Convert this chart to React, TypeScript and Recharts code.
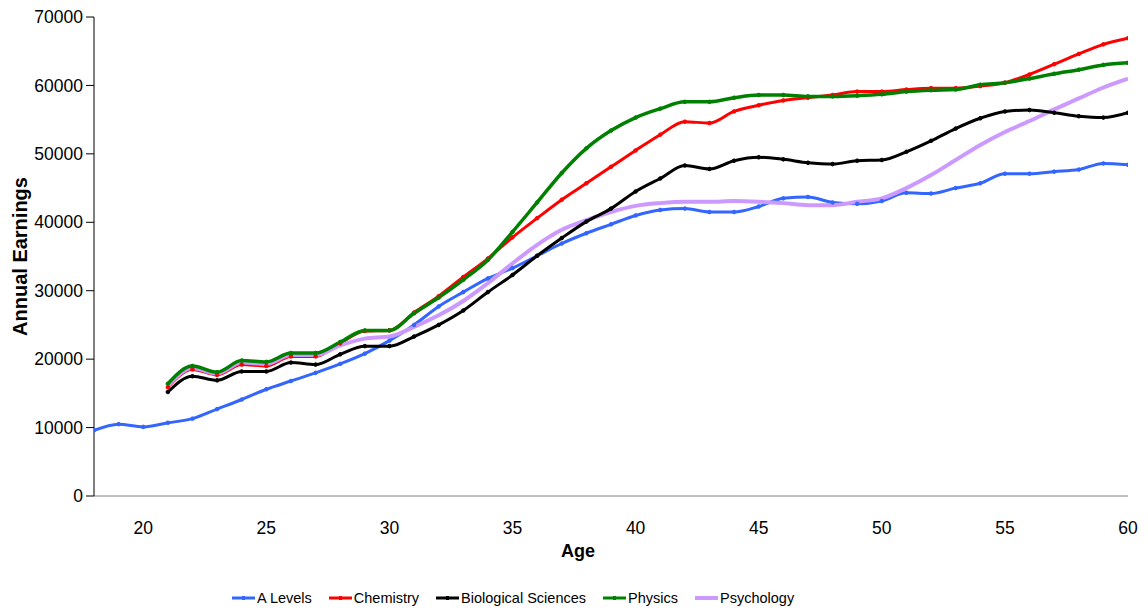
import React from 'react';
import { LineChart, Line, XAxis, YAxis, Legend } from 'recharts';

const ages = [
  18, 19, 20, 21, 22, 23, 24, 25, 26, 27, 28, 29, 30, 31, 32, 33, 34, 35, 36, 37, 38,
  39, 40, 41, 42, 43, 44, 45, 46, 47, 48, 49, 50, 51, 52, 53, 54, 55, 56, 57, 58, 59, 60,
];

const aLevels = [
  9600, 10500, 10100, 10700, 11300, 12700, 14100, 15600, 16800, 18000, 19300, 20800, 22700,
  25000, 27700, 29800, 31800, 33300, 35100, 36900, 38400, 39700, 41000, 41800, 42000, 41500,
  41500, 42300, 43500, 43700, 42900, 42700, 43100, 44300, 44200, 45000, 45700, 47100, 47100,
  47400, 47700, 48600, 48400,
];

const chemistry = [
  null, null, null, 15900, 18500, 17700, 19200, 19000, 20400, 20400, 22300, 24100, 24200,
  26800, 29200, 32000, 34700, 37800, 40600, 43300, 45700, 48100, 50500, 52800, 54700, 54500,
  56200, 57100, 57800, 58200, 58600, 59100, 59100, 59400, 59600, 59600, 59900, 60400, 61600,
  63100, 64600, 66000, 66900,
];

const biological = [
  null, null, null, 15200, 17500, 16900, 18200, 18200, 19500, 19200, 20700, 21900, 21900,
  23300, 25000, 27100, 29800, 32300, 35100, 37700, 40100, 42000, 44500, 46400, 48300, 47800,
  49000, 49500, 49200, 48700, 48500, 49000, 49100, 50300, 51900, 53700, 55200, 56200, 56400,
  56000, 55500, 55300, 56000,
];

const physics = [
  null, null, null, 16400, 19000, 18100, 19800, 19600, 20900, 20900, 22500, 24200, 24200,
  26700, 29000, 31600, 34500, 38600, 42900, 47200, 50800, 53400, 55300, 56600, 57600, 57600,
  58200, 58600, 58600, 58400, 58400, 58500, 58700, 59100, 59300, 59400, 60100, 60400, 61000,
  61700, 62300, 63000, 63300,
];

const psychology = [
  null, null, null, 16100, 18700, 17900, 19500, 19300, 20600, 20600, 22000, 23000, 23300,
  24700, 26400, 28500, 31100, 34000, 36700, 38900, 40300, 41500, 42400, 42800, 43000, 43000,
  43100, 43000, 42800, 42500, 42500, 43000, 43500, 45000, 46900, 49100, 51300, 53200, 54800,
  56500, 58100, 59700, 61000,
];

const xTicks = [20, 25, 30, 35, 40, 45, 50, 55, 60];
const yTicks = [0, 10000, 20000, 30000, 40000, 50000, 60000, 70000];

const series = [
  { key: 'aLevels', name: 'A Levels', color: '#3366FF', width: 3, marker: true },
  { key: 'chemistry', name: 'Chemistry', color: '#FF0000', width: 3, marker: true },
  { key: 'biological', name: 'Biological Sciences', color: '#000000', width: 3, marker: true },
  { key: 'physics', name: 'Physics', color: '#008000', width: 3.5, marker: true },
  { key: 'psychology', name: 'Psychology', color: '#CC99FF', width: 4, marker: false },
];

// draw order: psychology sits between chemistry and physics
const drawOrder = ['aLevels', 'chemistry', 'psychology', 'biological', 'physics'];

const data = ages.map((age, i) => ({
  age,
  aLevels: aLevels[i],
  chemistry: chemistry[i],
  biological: biological[i],
  physics: physics[i],
  psychology: psychology[i],
}));

const FONT = '"Liberation Sans", Arial, sans-serif';

const ChartLegend = () => (
  <div
    style={{
      display: 'flex',
      alignItems: 'center',
      paddingLeft: 232,
      fontFamily: FONT,
      fontSize: 14.5,
      color: '#000',
      height: 24,
    }}
  >
    {series.map((s) => (
      <div key={s.key} style={{ display: 'flex', alignItems: 'center', marginRight: 17 }}>
        <svg width={23} height={10} style={{ marginRight: 2 }}>
          <line x1={0} y1={5} x2={23} y2={5} stroke={s.color} strokeWidth={s.marker ? 3 : 4} />
          {s.marker && <rect x={10} y={3} width={3} height={4} fill={s.color} />}
        </svg>
        <span>{s.name}</span>
      </div>
    ))}
  </div>
);

export default function App() {
  return (
    <div style={{ position: 'absolute', left: 0, top: 0, background: '#fff' }}>
      <LineChart
        width={1148}
        height={610}
        data={data}
        margin={{ top: 17, right: 20, left: 0, bottom: 0 }}
      >
        <XAxis
          dataKey="age"
          type="number"
          domain={[18, 60]}
          ticks={xTicks}
          allowDataOverflow
          height={90}
          stroke="#808080"
          tickLine={false}
          tickSize={0}
          tickMargin={26}
          tick={{ fill: '#000', fontSize: 17.5, fontFamily: FONT }}
          label={{
            value: 'Age',
            position: 'insideBottom',
            offset: 29,
            dx: -33,
            fill: '#000',
            fontSize: 18,
            fontWeight: 'bold',
            fontFamily: FONT,
          }}
        />
        <YAxis
          domain={[0, 70000]}
          ticks={yTicks}
          width={94}
          stroke="#000"
          tickSize={8}
          tickMargin={3}
          tick={{ fill: '#000', fontSize: 17.5, fontFamily: FONT }}
          label={{
            content: ({ viewBox }: any) => {
              const cx = viewBox.x + 20;
              const cy = viewBox.y + viewBox.height / 2;
              return (
                <text
                  x={cx}
                  y={cy}
                  transform={`rotate(-90 ${cx} ${cy})`}
                  textAnchor="middle"
                  dominantBaseline="central"
                  fontFamily={FONT}
                  fontSize={20}
                  fontWeight="bold"
                  fill="#000"
                >
                  Annual Earnings
                </text>
              );
            },
          }}
        />
        <Legend
          verticalAlign="bottom"
          height={24}
          wrapperStyle={{ left: 0, width: 1148, bottom: 0 }}
          content={() => <ChartLegend />}
        />
        {drawOrder.map((k) => {
          const s = series.find((x) => x.key === k)!;
          return (
            <Line
              key={s.key}
              type="monotone"
              dataKey={s.key}
              name={s.name}
              stroke={s.color}
              strokeWidth={s.width}
              dot={s.marker ? { r: 1.8, fill: s.color, stroke: s.color, strokeWidth: 1 } : false}
              activeDot={false}
              isAnimationActive={false}
              connectNulls={false}
            />
          );
        })}
      </LineChart>
    </div>
  );
}
